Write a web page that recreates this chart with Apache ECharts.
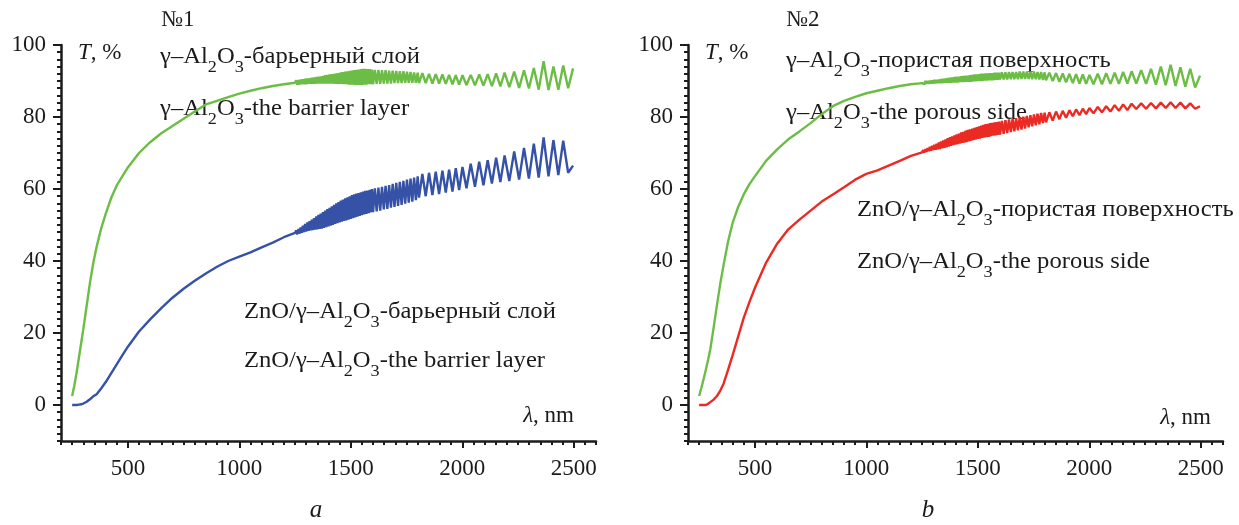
<!DOCTYPE html>
<html>
<head>
<meta charset="utf-8">
<script src="https://cdn.jsdelivr.net/npm/echarts@6/dist/echarts.min.js"></script>
<style>
html,body{margin:0;padding:0;background:#fff;}
#c{width:1239px;height:525px;}
</style>
</head>
<body>
<div id="c"></div>
<script>
// wavelength grid (nm)
const wl = [
  250,260,270,280,290,300,315,330,345,360,380,400,425,450,475,500,550,600,650,700,750,800,850,900,950,1000,1050,1100,1150,1200,1250,
  1255,1260,1265,1270,1275,1280,1285,1290,1295,1300,
  1305,1310,1315,1320,1325,1330,1335,1340,1345,1350,
  1355,1360,1365,1370,1375,1380,1385,1390,1395,1400,
  1405,1410,1415,1420,1425,1430,1435,1440,1445,1450,
  1455,1460,1465,1470,1475,1480,1485,1490,1495,1500,
  1505,1510,1515,1520,1525,1530,1535,1540,1545,1550,
  1555,1560,1565,1570,1575,1580,1585,1590,1595,1600,
  1608,1616,1624,1632,1640,1648,1656,1664,1672,1680,1688,1696,1704,1712,1720,1728,1736,1744,1752,1760,1768,1776,1784,1792,1800,
  1806,1821,1836,1851,1866,1881,1896,1911,1926,1941,1956,1971,1986,2001,
  2019,2038,2057,2076,2095,2114,2133,2152,2171,2190,
  2211,2233,2255,2277,2299,2321,2343,2365,2387,2409,2431,2453,2475,2497
];
// panel a: γ-Al2O3 barrier layer (green)
const tGreenA = [
  2.5,5.5,9,13,17,21,27.5,34,39.5,44,49,53,57.5,61,63.5,66,70,73,75.5,77.5,79.5,81.5,83.5,84.5,85.5,86.5,87.3,88,88.6,89.1,89.5,
  90.2,89.0,90.3,89.0,90.4,89.1,90.5,89.1,90.6,89.1,90.7,89.2,90.8,89.2,90.9,89.2,91.0,89.2,91.1,89.3,
  91.2,89.3,91.3,89.3,91.4,89.3,91.6,89.3,91.7,89.3,91.8,89.3,91.9,89.3,92.0,89.2,92.1,89.2,92.2,89.2,
  92.4,89.2,92.5,89.1,92.6,89.1,92.7,89.0,92.8,89.0,92.9,89.0,93.0,88.9,93.1,88.9,93.2,88.9,93.3,88.9,
  93.4,89.0,93.4,89.0,93.3,89.1,93.3,89.1,93.2,89.1,
  93.1,89.2,93.1,89.2,93.0,89.3,93.0,89.3,92.9,89.3,92.9,89.4,92.8,89.4,92.7,89.4,92.7,89.5,92.6,89.5,92.5,89.5,92.4,89.5,92.3,
  89.4,92.2,89.4,92.0,89.3,91.9,89.3,91.8,89.2,91.7,89.1,91.6,89.0,91.6,
  88.9,91.7,88.8,91.8,88.7,91.9,88.6,92.1,88.5,92.3,
  88.3,92.6,88.1,93.0,87.9,93.6,87.6,95.5,87.5,94.0,87.6,94.3,88.0,93.5
];
// panel a: ZnO/γ-Al2O3 barrier layer (blue)
const tBlueA = [
  0,0,0,0.1,0.2,0.4,0.9,1.6,2.4,3.0,4.6,6.3,8.8,11.3,13.8,16.2,20.4,23.8,26.9,29.8,32.3,34.5,36.5,38.4,40,41.2,42.4,43.8,45.1,46.6,47.8,
  48.5,47.4,48.9,47.6,49.3,47.8,49.8,48.0,50.3,48.2,50.7,48.4,51.1,48.5,51.5,48.6,51.9,48.7,52.4,48.8,
  52.8,48.9,53.2,49.0,53.6,49.2,54.0,49.4,54.4,49.6,54.8,49.8,55.2,50.0,55.6,50.3,56.0,50.5,56.4,50.7,
  56.8,50.9,57.1,51.1,57.4,51.3,57.7,51.5,58.0,51.7,58.3,51.9,58.5,52.1,58.7,52.3,58.9,52.5,59.1,52.7,
  59.3,52.9,59.5,53.1,59.6,53.3,59.8,53.5,60.0,53.6,
  60.2,53.8,60.4,54.0,60.6,54.3,60.9,54.5,61.1,54.8,61.4,55.0,61.7,55.3,62.0,55.6,62.3,55.9,62.6,56.2,62.9,56.5,63.2,56.9,63.5,
  57.6,64.2,58.0,64.5,58.3,64.8,58.6,65.1,59.0,65.4,59.3,65.8,59.7,66.1,
  60.2,67.0,60.6,67.6,61.0,68.0,61.5,68.7,61.9,69.3,
  62.2,70.4,62.6,71.4,62.9,72.6,63.2,74.3,63.5,73.6,63.9,73.4,64.5,66.5
];
// panel b: γ-Al2O3 porous side (green)
const tGreenB = [
  2.5,4.8,7.2,9.8,12.5,15.5,21.5,27.8,33.8,39,45.5,50.5,55,58.5,61.3,63.5,67.8,71,73.8,76,78.3,80.8,83,84.5,85.6,86.6,87.3,88,88.6,89.1,89.4,
  89.9,89.1,90.0,89.2,90.0,89.2,90.1,89.3,90.2,89.3,90.3,89.3,90.3,89.4,90.4,89.4,90.5,89.4,90.6,89.5,
  90.7,89.5,90.8,89.5,90.9,89.5,91.0,89.6,91.1,89.6,91.2,89.6,91.2,89.7,91.3,89.7,91.4,89.7,91.5,89.8,
  91.5,89.8,91.6,89.8,91.7,89.9,91.8,89.9,91.8,90.0,91.9,90.0,92.0,90.0,92.0,90.1,92.1,90.1,92.1,90.2,
  92.2,90.2,92.2,90.2,92.3,90.3,92.3,90.3,92.3,90.4,
  92.4,90.4,92.4,90.4,92.5,90.5,92.5,90.5,92.5,90.5,92.6,90.6,92.6,90.6,92.6,90.6,92.6,90.5,92.6,90.5,92.5,90.4,92.5,90.3,92.4,
  90.2,92.3,90.0,92.2,89.8,92.1,89.6,92.0,89.4,91.9,89.3,91.8,89.2,91.7,
  89.1,92.0,89.1,92.2,89.2,92.3,89.2,92.5,89.3,92.7,
  89.3,93.0,89.2,93.4,89.0,94.0,88.8,94.5,88.6,93.8,88.4,93.4,88.2,91.5
];
// panel b: ZnO/γ-Al2O3 porous side (red)
const tRedB = [
  0,0,0,0,0.3,0.8,1.5,2.5,4,6,9.8,13.8,19,24.2,28.5,32.5,39.5,44.8,48.8,51.5,54,56.5,58.5,60.5,62.6,64.2,65.2,66.5,67.8,69.2,70.2,
  70.8,70.1,71.1,70.3,71.4,70.5,71.7,70.6,72.0,70.8,72.3,70.9,72.6,71.0,72.9,71.1,73.2,71.3,73.5,71.4,
  73.8,71.6,74.1,71.8,74.4,72.0,74.6,72.2,74.9,72.3,75.2,72.5,75.4,72.6,75.7,72.8,75.9,72.9,76.2,73.0,
  76.4,73.2,76.6,73.4,76.8,73.6,77.0,73.7,77.2,73.9,77.4,74.0,77.6,74.2,77.8,74.3,78.0,74.4,78.1,74.5,
  78.3,74.7,78.4,74.8,78.5,74.9,78.6,75.0,78.7,75.1,
  78.9,75.3,79.1,75.5,79.3,75.8,79.5,76.0,79.7,76.3,79.9,76.5,80.1,76.8,80.3,77.1,80.5,77.4,80.7,77.7,80.9,78.0,81.1,78.3,81.2,
  78.5,81.3,79.0,81.5,79.4,81.7,79.8,81.9,80.2,82.1,80.5,82.3,80.8,82.5,
  81.0,82.8,81.3,83.0,81.5,83.3,81.7,83.5,81.9,83.7,
  82.2,83.8,82.3,83.9,82.4,84.0,82.5,84.1,82.5,84.0,82.4,83.8,82.3,83.0
];
const xMajorTicks = [500, 1000, 1500, 2000, 2500];
const yMajorTicks = [0, 20, 40, 60, 80, 100];
const xRange = [200, 2600];
const yRange = [-10, 100];

const serif = '"Liberation Serif", "Times New Roman", serif';
const ink = '#1b1b1b';
const GREEN = '#6cbd45', BLUE = '#3552a6', RED = '#ec2a24';

const chart = echarts.init(document.getElementById('c'), null, {renderer: 'canvas'});

function pairs(ys) { return wl.map((x, i) => [x, ys[i]]); }

const grids = [
  {left: 61, right: 643, top: 45, bottom: 84},
  {left: 688, right: 16, top: 45, bottom: 84}
];

const xAxes = [], yAxes = [];
[0, 1].forEach(g => {
  xAxes.push({
    type: 'value', gridIndex: g, position: 'bottom', min: xRange[0], max: xRange[1],
    axisLine: {show: true, onZero: false, lineStyle: {color: ink, width: 2.5}},
    axisTick: {show: true, customValues: xMajorTicks, length: 7, lineStyle: {color: ink, width: 2}},
    axisLabel: {show: true, customValues: xMajorTicks, margin: 16, fontSize: 23, fontFamily: serif, color: ink,
      formatter: v => String(v)},
    splitLine: {show: false}
  });
  xAxes.push({
    type: 'value', gridIndex: g, position: 'bottom', min: xRange[0], max: xRange[1], interval: 50,
    axisLine: {show: false, onZero: false}, axisLabel: {show: false}, splitLine: {show: false},
    axisTick: {show: true, length: 4, lineStyle: {color: ink, width: 2}}
  });
  yAxes.push({
    type: 'value', gridIndex: g, position: 'left', min: yRange[0], max: yRange[1],
    axisLine: {show: true, onZero: false, lineStyle: {color: ink, width: 2.5}},
    axisTick: {show: true, customValues: yMajorTicks, length: 8, lineStyle: {color: ink, width: 2}},
    axisLabel: {show: true, customValues: yMajorTicks, margin: 15, fontSize: 23, fontFamily: serif, color: ink,
      formatter: v => String(v)},
    splitLine: {show: false}
  });
  yAxes.push({
    type: 'value', gridIndex: g, position: 'left', min: yRange[0], max: yRange[1], interval: 2,
    axisLine: {show: false, onZero: false}, axisLabel: {show: false}, splitLine: {show: false},
    axisTick: {show: true, length: 4, lineStyle: {color: ink, width: 2}}
  });
});

function line(ys, color, xi, yi) {
  return {
    type: 'line', data: pairs(ys), xAxisIndex: xi, yAxisIndex: yi,
    showSymbol: false, symbol: 'none', smooth: false, animation: false,
    lineStyle: {color: color, width: 2.4}, z: 3
  };
}

const main = {fill: ink, fontSize: 23, fontFamily: serif, lineHeight: 26, verticalAlign: 'top'};
const sub = {fill: ink, fontSize: 17, fontFamily: serif, lineHeight: 46, verticalAlign: 'middle'};
const ital = {fill: ink, fontSize: 23, fontFamily: serif, fontStyle: 'italic', lineHeight: 26, verticalAlign: 'top'};
const SX = 1.07;

function chem(x, yTop, rest, prefix) {
  const txt = (prefix ? '{m|' + prefix + '}' : '') + '{m|γ–Al}{s|2}{m|O}{s|3}{m|' + rest + '}';
  return {type: 'text', x: x, y: yTop, scaleX: SX, silent: true,
    style: {text: txt, align: 'left', verticalAlign: 'top', rich: {m: main, s: sub}}};
}
function plain(x, y, txt, align, italic, size) {
  return {type: 'text', x: x, y: y, silent: true,
    style: {text: txt, align: align || 'left', verticalAlign: 'middle', fill: ink,
      fontSize: size || 23, fontFamily: serif, fontStyle: italic ? 'italic' : 'normal'}};
}
function richPlain(x, y, txt, align) {
  return {type: 'text', x: x, y: y, silent: true,
    style: {text: txt, align: align || 'left', verticalAlign: 'middle',
      rich: {m: Object.assign({}, main, {verticalAlign: 'middle'}), i: Object.assign({}, ital, {verticalAlign: 'middle'})}}};
}

const graphics = [
  plain(161, 20, '№1'),
  richPlain(78, 53, '{i|T}{m|, %}'),
  chem(160, 45, '-барьерный слой'),
  chem(160, 97, '-the barrier layer'),
  chem(244, 300, '-барьерный слой', 'ZnO/'),
  chem(244, 349, '-the barrier layer', 'ZnO/'),
  richPlain(574, 416, '{i|λ}{m|, nm}', 'right'),
  plain(316, 510, 'a', 'center', true, 25),

  plain(786, 20, '№2'),
  richPlain(705, 53, '{i|T}{m|, %}'),
  chem(786, 49, '-пористая поверхность'),
  chem(786, 101, '-the porous side'),
  chem(857, 198, '-пористая поверхность', 'ZnO/'),
  chem(857, 250, '-the porous side', 'ZnO/'),
  richPlain(1211, 418, '{i|λ}{m|, nm}', 'right'),
  plain(928, 510, 'b', 'center', true, 25)
];

chart.setOption({
  animation: false,
  backgroundColor: '#ffffff',
  grid: grids,
  xAxis: xAxes,
  yAxis: yAxes,
  series: [
    line(tGreenA, GREEN, 0, 0),
    line(tBlueA, BLUE, 0, 0),
    line(tGreenB, GREEN, 2, 2),
    line(tRedB, RED, 2, 2)
  ],
  graphic: graphics
});
</script>
</body>
</html>
